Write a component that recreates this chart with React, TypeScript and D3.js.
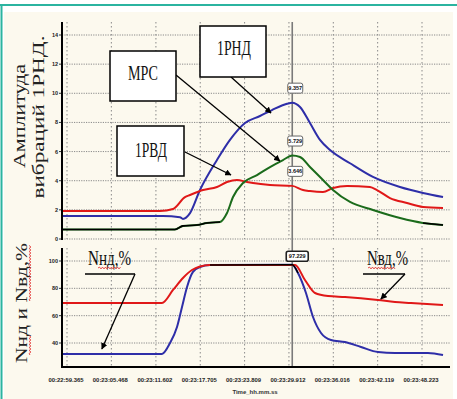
import React from 'react';
import * as d3 from 'd3';

// ---------- data ----------
const tickLabels = ['00:22:59.365', '00:23:05.468', '00:23:11.602', '00:23:17.705', '00:23:23.809', '00:23:29.912', '00:23:36.016', '00:23:42.119', '00:23:48.223'];
const tickSeconds = [0, 6.103, 12.237, 18.34, 24.444, 30.547, 36.651, 42.754, 48.858];
const ampTicks = [0, 2, 4, 6, 8, 10, 12, 14];
const pctTicks = [40, 60, 80, 100];

// 1РНД amplitude (blue)
const rndT = [-0.55, 13.21, 15.55, 15.96, 16.93, 18.3, 20.64, 22.43, 24.5, 26.56, 28.21, 30.28, 31.0, 32.07, 33.44, 34.82, 36.2, 38.95, 42.11, 45.83, 48.99, 51.75];
const rndV = [1.58, 1.58, 1.5, 1.38, 1.78, 3.36, 5.42, 6.8, 7.96, 8.44, 8.85, 9.28, 9.357, 9.06, 7.96, 6.8, 6.1, 5.2, 4.26, 3.57, 3.16, 2.88];
// 1РВД amplitude (red)
const rvdT = [-0.55, 12.8, 14.59, 16.24, 16.93, 18.72, 20.64, 22.02, 23.4, 24.77, 25.6, 27.94, 31.0, 32.48, 33.44, 35.23, 36.61, 38.54, 41.7, 42.66, 44.45, 46.79, 49.0, 51.75];
const rvdV = [1.92, 1.92, 2.06, 2.88, 3.02, 3.36, 3.57, 3.91, 4.05, 3.91, 3.84, 3.71, 3.646, 3.36, 3.29, 3.23, 3.5, 3.64, 3.57, 3.36, 2.81, 2.47, 2.2, 2.13];
// МРС amplitude (green)
const mpcT = [-0.55, 14.86, 15.96, 17.89, 19.26, 21.06, 22.02, 22.85, 24.22, 26.15, 27.94, 29.73, 31.0, 32.07, 33.44, 35.23, 36.61, 38.95, 42.11, 45.83, 49.0, 51.75];
const mpcV = [0.65, 0.65, 0.9, 0.96, 1.1, 1.17, 1.78, 2.88, 3.84, 4.39, 4.94, 5.42, 5.729, 5.63, 4.94, 4.05, 3.36, 2.54, 1.99, 1.44, 1.1, 0.96];
// Nнд % (blue)
const nndT = [-0.55, 13.07, 14.18, 15.14, 15.83, 16.52, 17.34, 18.3, 19.68, 31.0, 31.79, 32.89, 33.86, 34.96, 36.33, 38.26, 40.46, 42.8, 45.14, 49.68, 51.75];
const nndV = [32.0, 32.0, 40.0, 51.7, 66.4, 81.0, 92.0, 95.6, 97.1, 97.229, 91.2, 76.6, 59.0, 47.3, 42.2, 40.7, 37.1, 33.4, 32.7, 32.7, 31.2];
// Nвд % (red)
const nvdT = [-0.55, 13.07, 14.59, 15.96, 17.2, 18.3, 19.68, 31.38, 32.75, 34.13, 35.92, 38.26, 42.8, 45.14, 47.34, 51.75];
const nvdV = [69.3, 69.3, 78.8, 87.6, 93.4, 96.0, 97.1, 97.1, 86.1, 76.6, 74.4, 73.7, 71.5, 70.0, 69.3, 67.8];

const cursorT = 31.0;

const zip = (a: number[], b: number[]) => a.map((t, i) => [t, b[i]] as [number, number]);

// ---------- layout ----------
const W = 457, H = 399;
const X0 = 62, X1 = 450;
const TOP0 = 22, TOP1 = 239;
const BOT0 = 248, BOT1 = 367;

const x = d3.scaleLinear().domain([0, 48.858]).range([67, 422]);
const yA = d3.scaleLinear().domain([0, 14]).range([239, 35]);
const yP = d3.scaleLinear().domain([40, 100]).range([343, 261]);

const lineA = d3.line<[number, number]>().x(d => x(d[0])).y(d => yA(d[1])).curve(d3.curveMonotoneX);
const lineP = d3.line<[number, number]>().x(d => x(d[0])).y(d => yP(d[1])).curve(d3.curveMonotoneX);

const BLUE = '#2e2ea8';
const RED = '#e01818';
const GREEN = '#1b6b1b';
const GRID = '#8a8a8a';
const SERIF = '"Liberation Serif", "DejaVu Serif", serif';
const SANS = '"Liberation Sans", Arial, sans-serif';

function wavy(x0: number, x1: number, y: number) {
  let d = `M${x0},${y}`;
  let up = true;
  for (let xx = x0 + 1.5; xx <= x1; xx += 1.5) {
    d += `L${xx},${y + (up ? -0.9 : 0.9)}`;
    up = !up;
  }
  return d;
}

function CursorBox({ cx, cy, text, w, strong }: { cx: number; cy: number; text: string; w: number; strong?: boolean }) {
  return (
    <g>
      <rect x={cx - w / 2} y={cy - 5} width={w} height={10} rx={2} fill="#fff" stroke={strong ? '#222' : '#666'} strokeWidth={strong ? 1.6 : 1} />
      <text x={cx} y={cy + 2} textAnchor="middle" fontFamily={SANS} fontWeight="bold" fontSize={5.5} fill="#111">{text}</text>
    </g>
  );
}

export default function App() {
  const rnd = zip(rndT, rndV);
  const rvd = zip(rvdT, rvdV);
  const mpc = zip(mpcT, mpcV);
  const nnd = zip(nndT, nndV);
  const nvd = zip(nvdT, nvdV);
  const fmt = d3.format('.3f');
  const cx = x(cursorT);

  const peakRnd = rnd.find(d => d[0] === cursorT)!;
  const peakMpc = mpc.find(d => d[0] === cursorT)!;
  const peakRvd = rvd.find(d => d[0] === cursorT)!;
  const peakNnd = nnd.find(d => d[0] === cursorT)!;

  return (
    <svg width={W} height={H} style={{ position: 'absolute', left: 0, top: 0, background: '#fff' }}>
      <defs>
        <marker id="arr" viewBox="0 0 10 10" refX={9} refY={5} markerWidth={5} markerHeight={5} orient="auto">
          <path d="M0,0L10,5L0,10z" fill="#000" />
        </marker>
      </defs>
      {/* frame */}
      <rect x={4} y={12} width={449} height={H - 12} fill="#fcf9ee" />
      <line x1={0} x2={W} y1={5} y2={5} stroke="#2bb4a0" strokeWidth={2} />
      <line x1={1.5} x2={1.5} y1={5} y2={H} stroke="#2bb4a0" strokeWidth={2} />

      {/* grid top */}
      {ampTicks.map(v => (
        <line key={'ha' + v} x1={X0} x2={X1} y1={yA(v)} y2={yA(v)} stroke={GRID} strokeWidth={1} strokeDasharray="1.2,1.2" />
      ))}
      {pctTicks.map(v => (
        <line key={'hp' + v} x1={X0} x2={X1} y1={yP(v)} y2={yP(v)} stroke={GRID} strokeWidth={1} strokeDasharray="1.2,1.2" />
      ))}
      {tickSeconds.map(t => (
        <g key={'v' + t}>
          <line x1={x(t)} x2={x(t)} y1={TOP0} y2={TOP1} stroke={GRID} strokeWidth={1} strokeDasharray="1.5,2.5" />
          <line x1={x(t)} x2={x(t)} y1={BOT0} y2={BOT1} stroke={GRID} strokeWidth={1} strokeDasharray="1.5,2.5" />
        </g>
      ))}

      {/* cursor */}
      <line x1={cx} x2={cx} y1={TOP0} y2={BOT1} stroke="#7a7a7a" strokeWidth={1.6} />

      {/* top series */}
      <path d={lineA(rnd)!} fill="none" stroke={BLUE} strokeWidth={2} />
      <path d={lineA(rvd)!} fill="none" stroke={RED} strokeWidth={2} />
      <path d={lineA(mpc)!} fill="none" stroke={GREEN} strokeWidth={2} />
      <path d={lineA(mpc.slice(0, 6))!} fill="none" stroke="#000" strokeWidth={1.6} />
      <path d={lineA(mpc.slice(-2))!} fill="none" stroke="#000" strokeWidth={1.6} />

      {/* bottom series */}
      <path d={lineP(nnd)!} fill="none" stroke={BLUE} strokeWidth={2} />
      <path d={lineP(nvd)!} fill="none" stroke={RED} strokeWidth={2} />
      <path d={lineP(nnd.slice(8, 11))!} fill="none" stroke="#000" strokeWidth={1.4} />

      {/* axes */}
      <line x1={X0} x2={X0} y1={TOP0} y2={TOP1 + 1} stroke="#000" strokeWidth={2} />
      <line x1={X0} x2={X0} y1={BOT0} y2={BOT1} stroke="#000" strokeWidth={2} />
      <line x1={X0 - 1} x2={X1} y1={BOT1} y2={BOT1} stroke="#000" strokeWidth={2} />

      {ampTicks.map(v => (
        <g key={'ta' + v}>
          <line x1={X0 - 3} x2={X0} y1={yA(v)} y2={yA(v)} stroke="#000" strokeWidth={0.8} />
          <text x={X0 - 4} y={yA(v) + 2} textAnchor="end" fontFamily={SANS} fontWeight="bold" fontSize={5.5} fill="#222">{v}</text>
        </g>
      ))}
      {pctTicks.map(v => (
        <g key={'tp' + v}>
          <line x1={X0 - 3} x2={X0} y1={yP(v)} y2={yP(v)} stroke="#000" strokeWidth={0.8} />
          <text x={X0 - 4} y={yP(v) + 2} textAnchor="end" fontFamily={SANS} fontWeight="bold" fontSize={5.5} fill="#222">{v}</text>
        </g>
      ))}
      {tickSeconds.map((t, i) => (
        <text key={'tx' + t} x={x(t) - 1} y={382} textAnchor="middle" fontFamily={SANS} fontWeight="bold" fontSize={5.6} fill="#222" textLength={35} lengthAdjust="spacingAndGlyphs">{tickLabels[i]}</text>
      ))}
      <text x={255} y={394} textAnchor="middle" fontFamily={SANS} fontWeight="bold" fontSize={6} fill="#333">Time_hh.mm.ss</text>

      {/* axis titles */}
      <g transform="translate(25,116) rotate(-90)">
        <text x={0} y={0} textAnchor="middle" fontFamily={SERIF} fontSize={17} fill="#222" textLength={104} lengthAdjust="spacingAndGlyphs">Амплитуда</text>
      </g>
      <g transform="translate(44,117) rotate(-90)">
        <text x={0} y={0} textAnchor="middle" fontFamily={SERIF} fontSize={17} fill="#222" textLength={163} lengthAdjust="spacingAndGlyphs">вибраций 1РНД.</text>
      </g>
      <g transform="translate(27,303) rotate(-90)">
        <text x={0} y={0} textAnchor="middle" fontFamily={SERIF} fontSize={17} fill="#222" textLength={120} lengthAdjust="spacingAndGlyphs">Nнд и Nвд,%</text>
        <path d={wavy(-52, -32, 3)} fill="none" stroke="#e03030" strokeWidth={0.9} />
        <path d={wavy(2, 58, 3)} fill="none" stroke="#e03030" strokeWidth={0.9} />
      </g>

      {/* annotations top */}
      <line x1={176} y1={75} x2={x(29.3)} y2={yA(5.35)} stroke="#000" strokeWidth={1.3} markerEnd="url(#arr)" />
      <line x1={231} y1={77} x2={x(28.08)} y2={yA(8.65)} stroke="#000" strokeWidth={1.3} markerEnd="url(#arr)" />
      <line x1={185} y1={152} x2={x(22.57)} y2={yA(4.39)} stroke="#000" strokeWidth={1.3} markerEnd="url(#arr)" />

      <rect x={110} y={51} width={66} height={50} fill="#fff" stroke="#000" strokeWidth={1.5} />
      <text x={143} y={80} textAnchor="middle" fontFamily={SERIF} fontSize={21} fill="#111" textLength={30} lengthAdjust="spacingAndGlyphs">МРС</text>
      <rect x={200} y={26} width={66} height={51} fill="#fff" stroke="#000" strokeWidth={1.5} />
      <text x={234} y={55} textAnchor="middle" fontFamily={SERIF} fontSize={21} fill="#111" textLength={34} lengthAdjust="spacingAndGlyphs">1РНД</text>
      <rect x={117} y={126} width={67} height={50} fill="#fff" stroke="#000" strokeWidth={1.5} />
      <text x={151} y={157} textAnchor="middle" fontFamily={SERIF} fontSize={21} fill="#111" textLength={32} lengthAdjust="spacingAndGlyphs">1РВД</text>

      {/* annotations bottom */}
      <text x={88} y={265} fontFamily={SERIF} fontSize={20} fill="#111" textLength={43} lengthAdjust="spacingAndGlyphs">Nнд,%</text>
      <path d={wavy(98, 121, 268)} fill="none" stroke="#e03030" strokeWidth={0.9} />
      <polyline points={`85,274 135,274`} fill="none" stroke="#000" strokeWidth={1.3} />
      <line x1={135} y1={274} x2={x(4.8)} y2={yP(35.6)} stroke="#000" strokeWidth={1.3} markerEnd="url(#arr)" />

      <text x={367} y={265} fontFamily={SERIF} fontSize={20} fill="#111" textLength={41} lengthAdjust="spacingAndGlyphs">Nвд,%</text>
      <path d={wavy(368, 395, 268)} fill="none" stroke="#e03030" strokeWidth={0.9} />
      <polyline points={`363,274 405,274`} fill="none" stroke="#000" strokeWidth={1.3} />
      <line x1={405} y1={274} x2={x(43.2)} y2={yA(0) * 0 + yP(72.2)} stroke="#000" strokeWidth={1.3} markerEnd="url(#arr)" />

      {/* cursor value boxes */}
      <CursorBox cx={cx + 3} cy={yA(peakRnd[1]) - 14.5} text={fmt(peakRnd[1])} w={15} />
      <CursorBox cx={cx + 3} cy={yA(peakMpc[1]) - 14.5} text={fmt(peakMpc[1])} w={15} />
      <CursorBox cx={cx + 3} cy={yA(peakRvd[1]) - 14.5} text={fmt(peakRvd[1])} w={15} />
      <CursorBox cx={cx + 5} cy={yP(peakNnd[1]) - 8.5} text={fmt(peakNnd[1])} w={22} strong />
    </svg>
  );
}
